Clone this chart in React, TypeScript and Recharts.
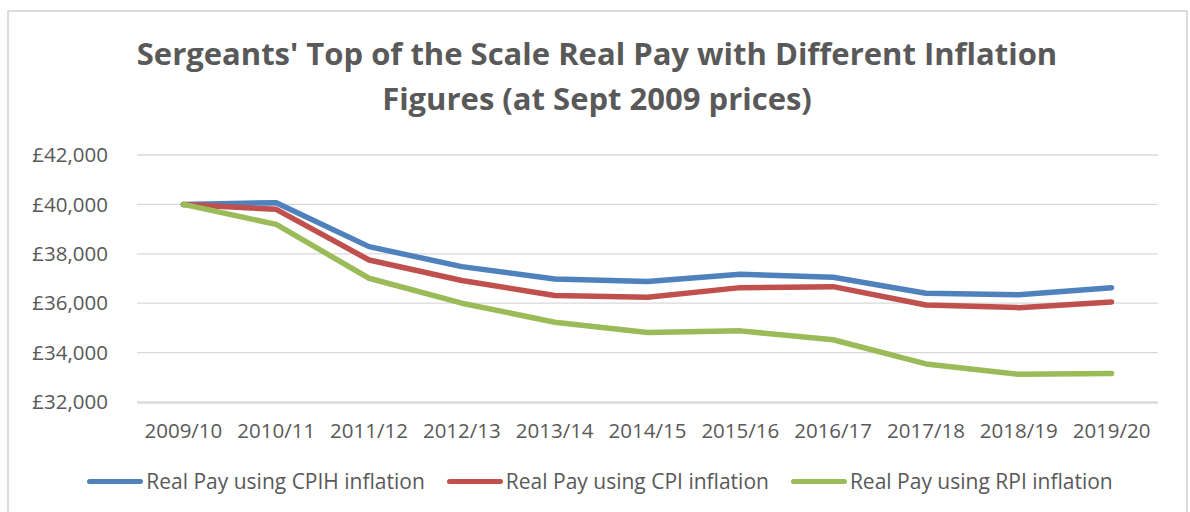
import React from 'react';
import { LineChart, Line, XAxis, YAxis, CartesianGrid, Legend } from 'recharts';

const categories = ['2009/10', '2010/11', '2011/12', '2012/13', '2013/14', '2014/15', '2015/16', '2016/17', '2017/18', '2018/19', '2019/20'];
const cpihValues = [40000, 40070, 38290, 37480, 36980, 36875, 37170, 37050, 36400, 36340, 36630];
const cpiValues = [40000, 39800, 37750, 36920, 36310, 36240, 36630, 36670, 35930, 35820, 36050];
const rpiValues = [40000, 39190, 37010, 36000, 35230, 34815, 34880, 34520, 33540, 33120, 33150];
const yTicks = [32000, 34000, 36000, 38000, 40000, 42000];
const boundaryTicks = [0, 1, 2, 3, 4, 5, 6, 7, 8, 9, 10, 11];

const seriesInfo = [
  { key: 'cpih', name: 'Real Pay using CPIH inflation', color: '#4F81BD' },
  { key: 'cpi', name: 'Real Pay using CPI inflation', color: '#C0504D' },
  { key: 'rpi', name: 'Real Pay using RPI inflation', color: '#9BBB59' },
];

const data = categories.map((c, i) => ({
  year: c,
  cpih: cpihValues[i],
  cpi: cpiValues[i],
  rpi: rpiValues[i],
}));

const FONT = '"Open Sans", sans-serif';
const TEXT = '#595959';
const GRID = '#d9d9d9';

const fmt = (v: number) => '£' + v.toLocaleString('en-GB');

const LegendContent = () => (
  <div style={{ display: 'flex', justifyContent: 'center', alignItems: 'center', fontFamily: FONT, fontSize: 21, color: TEXT }}>
    {seriesInfo.map((s, i) => (
      <div key={s.key} style={{ display: 'flex', alignItems: 'center', marginLeft: i === 0 ? 0 : 22 }}>
        <div style={{ width: 56, height: 5, borderRadius: 3, background: s.color, marginRight: 3 }} />
        <span style={{ whiteSpace: 'nowrap' }}>{s.name}</span>
      </div>
    ))}
  </div>
);

export default function App() {
  return (
    <div style={{ position: 'absolute', left: 0, top: 0, width: 1190, height: 512, background: '#fff', overflow: 'hidden' }}>
      <div style={{ position: 'absolute', left: 7, top: 10, width: 1181, height: 530, border: '2px solid #dcdcdc', boxSizing: 'border-box' }} />
      <svg style={{ position: 'absolute', left: 0, top: 0 }} width={1190} height={130}>
        <text x={597} y={65} textAnchor="middle" fontFamily={FONT} fontWeight={700} fontSize={31} fill={TEXT}>
          Sergeants' Top of the Scale Real Pay with Different Inflation
        </text>
        <text x={597} y={110} textAnchor="middle" fontFamily={FONT} fontWeight={700} fontSize={31} fill={TEXT}>
          Figures (at Sept 2009 prices)
        </text>
      </svg>
      <div style={{ position: 'absolute', left: 0, top: 0 }}>
        <LineChart width={1190} height={512} data={data} margin={{ top: 155, right: 32, bottom: 108, left: 8 }}>
          <CartesianGrid vertical={false} stroke={GRID} strokeWidth={1.3} />
          <XAxis
            xAxisId="grid"
            type="number"
            domain={[0, 11]}
            ticks={boundaryTicks}
            tick={false}
            height={1}
            tickSize={6}
            axisLine={{ stroke: GRID, strokeWidth: 1.3 }}
            tickLine={{ stroke: GRID, strokeWidth: 1.3 }}
          />
          <XAxis
            xAxisId="cat"
            dataKey="year"
            scale="band"
            height={1}
            axisLine={false}
            tickLine={false}
            tickSize={0}
            tickMargin={21}
            interval={0}
            tick={{ fill: TEXT, fontSize: 20.5, fontFamily: FONT }}
          />
          <YAxis
            domain={[32000, 42000]}
            ticks={yTicks}
            width={129}
            axisLine={false}
            tickLine={false}
            tickSize={0}
            tickMargin={29}
            tickFormatter={fmt}
            tick={{ fill: TEXT, fontSize: 20.5, fontFamily: FONT }}
          />
          {seriesInfo.map((s) => (
            <Line
              key={s.key}
              xAxisId="cat"
              dataKey={s.key}
              name={s.name}
              stroke={s.color}
              strokeWidth={5.5}
              strokeLinecap="round"
              strokeLinejoin="round"
              dot={false}
              activeDot={false}
              isAnimationActive={false}
            />
          ))}
          <Legend
            layout="horizontal"
            verticalAlign="middle"
            align="center"
            content={<LegendContent />}
            wrapperStyle={{ position: 'absolute', top: 467, left: 5, width: 1190 }}
          />
        </LineChart>
      </div>
    </div>
  );
}
